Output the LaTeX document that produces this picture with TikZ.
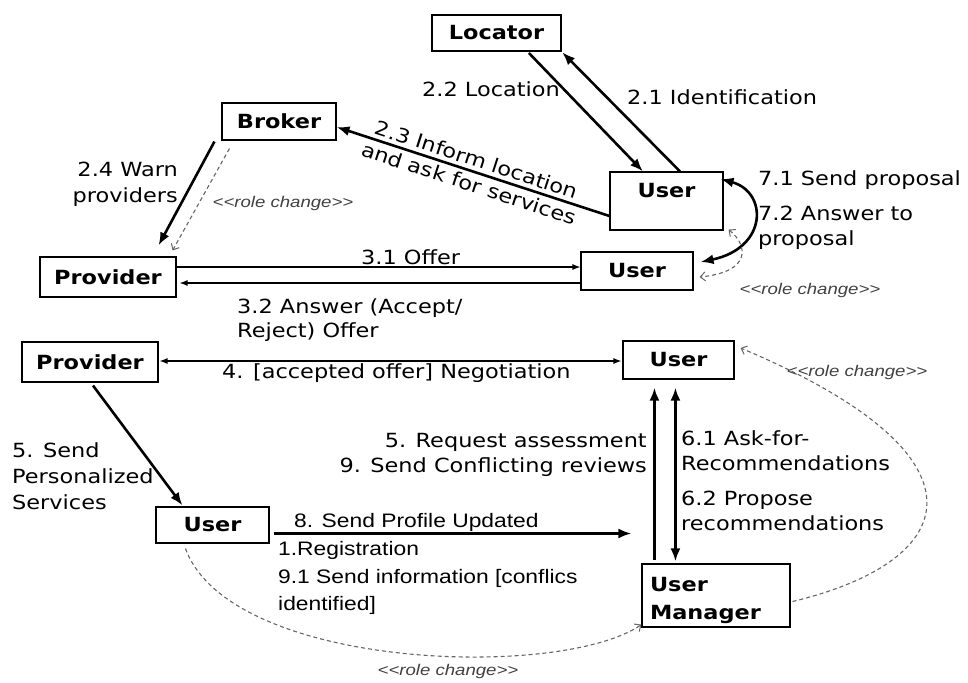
\documentclass[tikz,border=0pt]{standalone}
\usepackage{fontspec}
\setmainfont{DejaVu Sans}[FakeStretch=1.15]
\newfontfamily\arialx{Liberation Sans}[FakeStretch=1.17]
\newfontfamily\rolefont{Liberation Sans}[FakeStretch=1.2]
\usetikzlibrary{arrows.meta,calc}
\newcommand\rolechange{\char"3C\char"3C role change\char"3E\char"3E}

\tikzset{
  actor/.style={draw, line width=1.1pt, fill=white, inner sep=0pt,
    font=\fontsize{19.5}{28}\selectfont\bfseries},
  msg/.style={font=\fontsize{19.5}{25}\selectfont, inner sep=0pt},
  msgarial/.style={font=\arialx\fontsize{19.5}{27}\selectfont, inner sep=0pt},
  rolelbl/.style={font=\rolefont\itshape\fontsize{15.5}{18}\selectfont, text=black!75, inner sep=0pt},
  bigtip/.tip={Latex[length=13pt,width=10pt]},
  smalltip/.tip={Latex[length=8pt,width=6pt]},
  barbtip/.tip={Straight Barb[length=5pt,width=9pt,line width=1pt]},
  heavy/.style={line width=2.6pt, -bigtip},
  heavyboth/.style={line width=2.6pt, bigtip-bigtip},
  light/.style={line width=1.2pt, -smalltip},
  lightboth/.style={line width=1.2pt, smalltip-smalltip},
  rolechg/.style={draw=black!60, line width=1.1pt, dash pattern=on 4pt off 3pt, -barbtip},
  rolechgboth/.style={draw=black!60, line width=1.1pt, dash pattern=on 4pt off 3pt, barbtip-barbtip},
}

\begin{document}
\begin{tikzpicture}[x=1pt,y=-1pt]
\useasboundingbox (0,0) rectangle (968,682);

% participants
\node[actor, minimum width=129pt, minimum height=36pt] (loc) at (496.5,33) {Locator};
\node[actor, minimum width=114pt, minimum height=37pt] (brk) at (279,121.5) {Broker};
\node[actor, minimum width=113pt, text height=25pt, text depth=33pt] (u1) at (666.5,201) {User};
\node[actor, minimum width=136pt, minimum height=40pt] (pv1) at (108,277) {Provider};
\node[actor, minimum width=112pt, minimum height=38pt] (u2) at (637,271) {User};
\node[actor, minimum width=136pt, minimum height=40pt] (pv2) at (90,362) {Provider};
\node[actor, minimum width=111pt, minimum height=38pt] (u3) at (678.5,360) {User};
\node[actor, minimum width=113pt, minimum height=36pt] (u4) at (212.5,525) {User};
\node[actor, minimum width=148pt, minimum height=63pt, align=left, text width=132pt] (um) at (716,595.5) {\rule{0pt}{24pt}User\\Manager};

% locating the user
\draw[heavy, shorten >=1pt] ([xshift=13.5pt]u1.north) -- (loc.south east);
\draw[heavy, shorten <=2pt] ([xshift=31pt]loc.south) -- ([xshift=-23.5pt]u1.north);
\draw[heavy] ([yshift=-15pt]u1.west) -- ([yshift=-5.5pt]brk.east)
  node[msg, midway, sloped, align=center] (l23) {2.3 Inform location\\and ask for services};
\draw[heavy] ($(brk.south west)+(-7,1)$) -- ($(pv1.north east)+(-18,-11)$);
\draw[rolechg] ($(brk.south west)+(8,8)$) -- ($(pv1.north east)+(-4,-6)$);

% offer and answer
\draw[light] ([yshift=10pt]pv1.east) -- ([yshift=10pt]pv1.east -| u2.west);
\draw[light, shorten >=3pt] ([yshift=-6pt]pv1.east -| u2.west) -- ([yshift=-6pt]pv1.east);

% proposal between users
\draw[heavyboth] ($(u1.east)+(-3,-22)$) .. controls (768,192) and (768,248) .. ($(u2.east)+(7,-9)$);
\draw[rolechgboth] ($(u1.south east)+(5,-1)$) .. controls (748,245) and (752,272) .. ($(u2.east)+(6,6)$);

% negotiation and services
\draw[lightboth, shorten <=1pt, shorten >=1pt] ([yshift=1pt]pv2.east) -- ([yshift=1pt]pv2.east -| u3.west);
\draw[heavy] ($(pv2.south)+(3,3)$) -- ($(u4.north)+(-30,-1)$);
\draw[heavy, shorten <=4pt] ([yshift=-8.5pt]u4.east) -- ($([yshift=-8.5pt]u4.east -| um.west)+(-10,0)$);

% user manager exchanges
\draw[heavy, shorten <=3pt, shorten >=8pt] ([xshift=13pt]um.north west) -- ([xshift=13pt]um.north west |- u3.south);
\draw[heavyboth, shorten <=2pt, shorten >=8pt] ([xshift=34pt]um.north west) -- ([xshift=34pt]um.north west |- u3.south);

% role changes
\draw[rolechg] ($(u4.south west)+(30,5)$) .. controls (230,670) and (560,680) .. ($(um.south west)+(0,-3)$);
\draw[rolechg] ($(um.east)+(2,6)$) .. controls (965,560) and (995,455) .. ($(u3.east)+(6,-12)$);

% message labels
\node[msg, anchor=base east] (l22) at (560,97) {2.2 Location};
\node[msg, anchor=base west] (l21) at (627,105) {2.1 Identification};
\node[msg, align=right, anchor=north east, font=\fontsize{19.5}{26}\selectfont] (l24) at (178,161.5) {2.4 Warn\\providers};
\node[rolelbl] (rc1) at (283,203) {\rolechange};
\node[msg, anchor=base west] (l71) at (758,185) {7.1 Send proposal};
\node[msg, align=left, anchor=north west] (l72) at (758,205.5) {7.2 Answer to\\proposal};
\node[rolelbl] (rc2) at (810,290) {\rolechange};
\node[msg, anchor=base west] (l31) at (361,264) {3.1 Offer};
\node[msg, align=left, anchor=north west, font=\fontsize{19.5}{24}\selectfont] (l32) at (237,298) {3.2 Answer (Accept/\\Reject) Offer};
\node[msg, anchor=base west] (l4) at (222,378) {4. [accepted offer] Negotiation};
\node[msg, align=left, anchor=north west, font=\fontsize{19.5}{26}\selectfont] (l5a) at (12,442.5) {5. Send\\Personalized\\Services};
\node[msg, align=right, anchor=north east] (l5b) at (647,433) {5. Request assessment\\9. Send Conflicting reviews};
\node[msg, align=left, anchor=north west] (l61) at (681,430) {6.1 Ask-for-\\Recommendations};
\node[msg, align=left, anchor=north west] (l62) at (681,491) {6.2 Propose\\recommendations};
\node[msgarial, anchor=base west] (l8) at (294,527) {8. Send Profile Updated};
\node[msgarial, anchor=base west] (l1) at (278,555) {1.Registration};
\node[msgarial, align=left, anchor=north west] (l91) at (278,569) {9.1 Send information [conflics\\identified]};
\node[rolelbl] (rc3) at (448,671) {\rolechange};
\node[rolelbl] (rc4) at (857,372) {\rolechange};
\end{tikzpicture}
\end{document}
